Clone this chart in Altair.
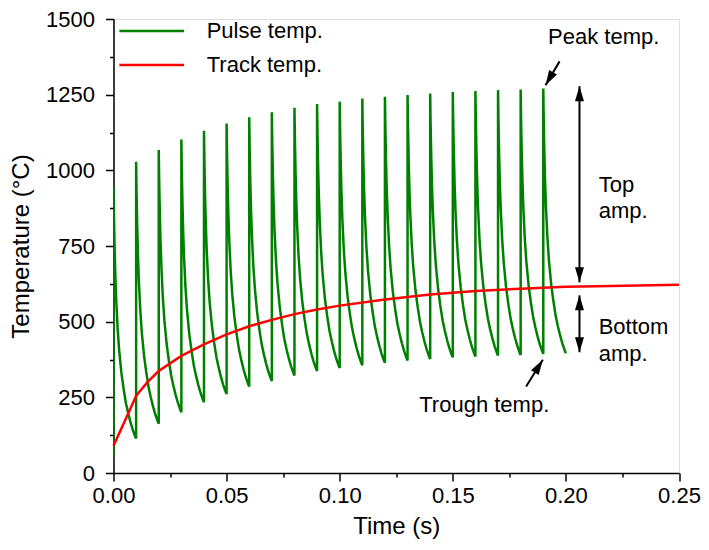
import altair as alt
import pandas as pd

# ---------------- data ----------------
period = 0.01
pulse_start = [0.00, 0.01, 0.02, 0.03, 0.04, 0.05, 0.06, 0.07, 0.08, 0.09,
               0.10, 0.11, 0.12, 0.13, 0.14, 0.15, 0.16, 0.17, 0.18, 0.19]
pulse_peak = [947, 1028, 1067, 1102, 1131, 1155, 1175, 1192, 1207, 1219,
              1227, 1237, 1243, 1249, 1254, 1259, 1262, 1265, 1267, 1270]
pulse_trough = [114, 163, 201, 234, 261, 286, 304, 322, 337, 347,
                356, 364, 372, 377, 382, 385, 388, 390, 394, 396]
pulse_initial = 50
# shape of one cooling curve, read off a pulse: fraction of the period elapsed
# vs fraction of (peak - trough) still remaining
decay_phase = [0.0, 0.02, 0.05, 0.08, 0.12, 0.18, 0.25, 0.35, 0.45, 0.55, 0.65, 0.75, 0.85, 0.95, 1.0]
decay_level = [1.0, 0.88, 0.75, 0.65, 0.55, 0.44, 0.35, 0.26, 0.195, 0.14, 0.10, 0.065, 0.035, 0.01, 0.0]

track_time = [0.0, 0.005, 0.01, 0.015, 0.02, 0.03, 0.04, 0.05, 0.06, 0.07, 0.08,
              0.09, 0.10, 0.12, 0.14, 0.16, 0.18, 0.20, 0.22, 0.25]
track_temp = [90, 172, 255, 300, 337, 387, 425, 458, 485, 506, 525,
              540, 553, 573, 590, 601, 609, 615, 618, 622]

x_ticks = [0.0, 0.05, 0.10, 0.15, 0.20, 0.25]
x_minor = [0.025, 0.075, 0.125, 0.175, 0.225]
y_ticks = [0, 250, 500, 750, 1000, 1250, 1500]
y_minor = [125, 375, 625, 875, 1125, 1375]

legend_names = ["Pulse temp.", "Track temp."]
legend_colors = ["#008000", "#ff0000"]

FONT = "Liberation Sans"

# ---------------- tables ----------------
rows = []
prev = pulse_initial
for t0, pk, tr in zip(pulse_start, pulse_peak, pulse_trough):
    rows.append({"t": t0, "T": prev})
    rows.append({"t": t0, "T": pk})
    for ph, lv in zip(decay_phase[1:], decay_level[1:]):
        rows.append({"t": t0 + ph * period, "T": tr + (pk - tr) * lv})
    prev = tr
pulse_df = pd.DataFrame(rows)
pulse_df["i"] = range(len(pulse_df))

track_df = pd.DataFrame({"t": track_time, "T": track_temp})

arrows_df = pd.DataFrame({
    "t":  [0.206, 0.206, 0.1972, 0.1824],
    "T":  [1278, 587, 1360, 286],
    "t2": [0.206, 0.206, 0.1910, 0.1898],
    "T2": [630, 399, 1281, 374],
})
heads_df = pd.DataFrame({
    "t": [0.206, 0.206, 0.206, 0.206, 0.1910, 0.1898],
    "T": [1278, 630, 587, 399, 1281, 374],
    "angle": [0, 180, 0, 180, 210, 32],
})
text_center_df = pd.DataFrame({
    "t": [0.2167, 0.1639],
    "T": [1440, 225],
    "label": ["Peak temp.", "Trough temp."],
})
text_top_df = pd.DataFrame({"t": [0.2145], "T": [950], "label": [["Top", "amp."]]})
text_bottom_df = pd.DataFrame({"t": [0.2145], "T": [483], "label": [["Bottom", "amp."]]})
legend_df = pd.DataFrame({
    "t": [0.0026, 0.0026],
    "t2": [0.0312, 0.0312],
    "T": [1460, 1348],
    "tt": [0.0412, 0.0412],
    "name": legend_names,
    "color": legend_colors,
})

# ---------------- scales / axes ----------------
xs = alt.Scale(domain=[0, 0.25], nice=False, zero=False)
ys = alt.Scale(domain=[0, 1500], nice=False)

common_axis = dict(
    grid=False, domainColor="black", domainWidth=1.5, tickColor="black",
    tickWidth=1.5, labelColor="black", titleColor="black", labelFont=FONT,
    titleFont=FONT, labelFontSize=22, titleFontSize=24, titleFontWeight="normal",
    labelFlush=False, labelOverlap=False,
)
x_axis = alt.Axis(values=x_ticks, format=".2f", tickSize=8, labelPadding=4,
                  titlePadding=8, title="Time (s)", orient="bottom", **common_axis)
y_axis = alt.Axis(values=y_ticks, format="d", tickSize=8, labelPadding=11,
                  titlePadding=12, title="Temperature (°C)", orient="left", **common_axis)
x_axis_minor = alt.Axis(values=x_minor, tickSize=4, labels=False, domain=False,
                        title=None, orient="bottom", grid=False, tickColor="black",
                        tickWidth=1.5)
y_axis_minor = alt.Axis(values=y_minor, tickSize=4, labels=False, domain=False,
                        title=None, orient="left", grid=False, tickColor="black",
                        tickWidth=1.5)

def X(field="t", axis=None):
    return alt.X(f"{field}:Q", scale=xs, axis=axis)

def Y(field="T", axis=None):
    return alt.Y(f"{field}:Q", scale=ys, axis=axis)

pulse = alt.Chart(pulse_df).mark_line(color="#008000", strokeWidth=2.5, clip=True).encode(
    x=X(axis=x_axis), y=Y(axis=y_axis), order="i:Q")

track = alt.Chart(track_df).mark_line(color="#ff0000", strokeWidth=2.5).encode(
    x=X(), y=Y())

minor = alt.Chart(track_df).mark_point(opacity=0).encode(
    x=X(axis=x_axis_minor), y=Y(axis=y_axis_minor))

arrows = alt.Chart(arrows_df).mark_rule(color="black", strokeWidth=2).encode(
    x=X(), y=Y(), x2="t2:Q", y2="T2:Q")

heads = alt.Chart(heads_df).mark_point(
    shape="M0,0L-0.3,1L0.3,1Z", filled=True, color="black", opacity=1, size=900,
    strokeWidth=0).encode(x=X(), y=Y(), angle=alt.Angle("angle:Q", scale=None))

txt_c = alt.Chart(text_center_df).mark_text(
    align="center", baseline="middle", font=FONT, fontSize=22, color="black").encode(
    x=X(), y=Y(), text="label:N")

txt_top = alt.Chart(text_top_df).mark_text(
    align="left", baseline="middle", font=FONT, fontSize=22, lineHeight=26,
    color="black").encode(x=X(), y=Y(), text="label")

txt_bottom = alt.Chart(text_bottom_df).mark_text(
    align="left", baseline="middle", font=FONT, fontSize=22, lineHeight=27,
    color="black").encode(x=X(), y=Y(), text="label")

leg_lines = alt.Chart(legend_df).mark_rule(strokeWidth=2.5).encode(
    x=X(), x2="t2:Q", y=Y(), color=alt.Color("color:N", scale=None))

leg_text = alt.Chart(legend_df).mark_text(
    align="left", baseline="middle", font=FONT, fontSize=22, color="black").encode(
    x=X("tt"), y=Y(), text="name:N")

chart = alt.layer(
    pulse, track, minor, arrows, heads, txt_c, txt_top, txt_bottom, leg_lines, leg_text
).resolve_axis(x="independent", y="independent").properties(
    width=565.5, height=454,
    padding={"left": 105.5, "top": 11, "right": 22, "bottom": 70},
    autosize=alt.AutoSizeParams(type="none"),
).configure_view(stroke="black", strokeWidth=1.5).configure(background="white")

chart.save("out.html", embed_options={"renderer": "svg", "actions": False})
